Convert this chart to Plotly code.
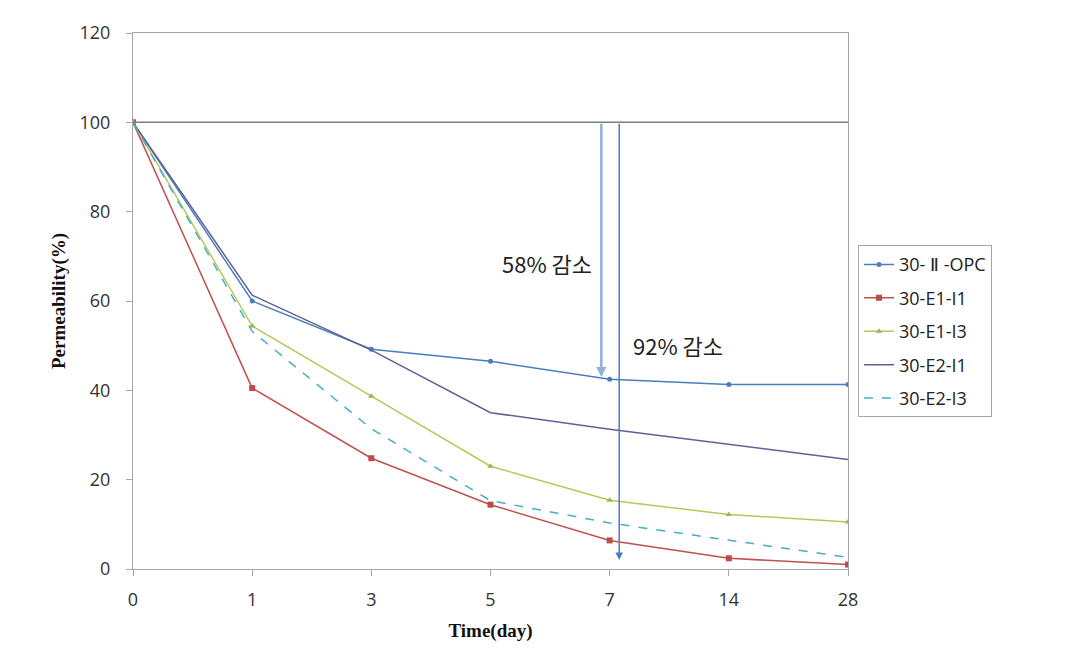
import plotly.graph_objects as go

# ---- data ----
days = ["0", "1", "3", "5", "7", "14", "28"]
opc = [100, 60.0, 49.2, 46.5, 42.5, 41.3, 41.3]
e1_i1 = [100, 40.5, 24.8, 14.4, 6.4, 2.4, 1.0]
e1_i3 = [100, 54.4, 38.7, 23.0, 15.4, 12.2, 10.5]
e2_i1 = [100, 61.3, 49.0, 35.0, 31.3, 27.9, 24.5]
e2_i3 = [100, 53.2, 31.4, 15.3, 10.3, 6.4, 2.6]

reference_level = 100
drop_58_end = 43
drop_92_end = 2

AXIS_GREY = "#a6a6a6"
TICK_FONT = dict(family="Open Sans", size=18, color="#333333")
TITLE_FONT = dict(family="Liberation Serif", size=19, color="#111111")

fig = go.Figure()

fig.add_trace(go.Scatter(x=days, y=opc, name="30- Ⅱ -OPC", mode="lines+markers",
                         legendgroup="a",
                         line=dict(color="#4a7ebb", width=1.5),
                         marker=dict(symbol="circle", size=5, color="#4a7ebb")))
fig.add_trace(go.Scatter(x=days, y=e1_i1, name="30-E1-I1", mode="lines+markers",
                         legendgroup="b",
                         line=dict(color="#c0504d", width=1.5),
                         marker=dict(symbol="square", size=6, color="#be4b48")))
fig.add_trace(go.Scatter(x=days, y=e1_i3, name="30-E1-I3", mode="lines+markers",
                         legendgroup="c",
                         line=dict(color="#b3c95a", width=1.5),
                         marker=dict(symbol="triangle-up", size=6, color="#98b954")))
fig.add_trace(go.Scatter(x=days, y=e2_i1, name="30-E2-I1", mode="lines",
                         legendgroup="d",
                         line=dict(color="#5f6196", width=1.5)))
fig.add_trace(go.Scatter(x=days, y=e2_i3, name="30-E2-I3", mode="lines",
                         legendgroup="e",
                         line=dict(color="#4bacc6", width=1.5, dash="dash")))

# horizontal 100% reference line
fig.add_shape(type="line", xref="paper", x0=0, x1=1, yref="y",
              y0=reference_level, y1=reference_level,
              line=dict(color="#7f7f7f", width=1.5))

# reduction arrows
fig.add_annotation(x=3.93, y=drop_58_end, ax=3.93, ay=reference_level,
                   xref="x", yref="y", axref="x", ayref="y", text="",
                   showarrow=True, arrowhead=2, arrowsize=0.8, arrowwidth=2.5,
                   arrowcolor="#8fb0dc")
fig.add_annotation(x=4.08, y=drop_92_end, ax=4.08, ay=reference_level,
                   xref="x", yref="y", axref="x", ayref="y", text="",
                   showarrow=True, arrowhead=2, arrowsize=1, arrowwidth=1.5,
                   arrowcolor="#4a7ebb")
fig.add_annotation(x=3.47, y=68.4, text="58% 감소", showarrow=False,
                   font=dict(family="Noto Sans CJK KR", size=22, color="#222222"))
fig.add_annotation(x=4.57, y=50.2, text="92% 감소", showarrow=False,
                   font=dict(family="Noto Sans CJK KR", size=22, color="#222222"))

fig.update_layout(
    width=1080, height=668,
    margin=dict(l=125, r=240, t=19, b=107),
    paper_bgcolor="white", plot_bgcolor="white",
    showlegend=True,
    legend=dict(x=1.014, y=0.604, xanchor="left", yanchor="top",
                bordercolor=AXIS_GREY, borderwidth=1, bgcolor="white",
                font=dict(family="Open Sans", size=18, color="#222222"),
                tracegroupgap=7, itemwidth=30),
)
fig.update_xaxes(type="category", range=[0, 6], showgrid=False,
                 showline=True, linecolor=AXIS_GREY, linewidth=1, mirror=True,
                 ticks="outside", ticklen=6, tickcolor=AXIS_GREY,
                 tickfont=TICK_FONT, ticklabelstandoff=8,
                 title=dict(text="<b>Time(day)</b>", font=TITLE_FONT, standoff=14))
fig.update_yaxes(range=[0, 120], dtick=20, showgrid=False, zeroline=False,
                 showline=True, linecolor=AXIS_GREY, linewidth=1, mirror=True,
                 ticks="outside", ticklen=6, tickcolor=AXIS_GREY,
                 tickfont=TICK_FONT, ticklabelstandoff=12,
                 title=dict(text="<b>Permeability(%)</b>", font=TITLE_FONT, standoff=8))

fig.write_html("out.html")
